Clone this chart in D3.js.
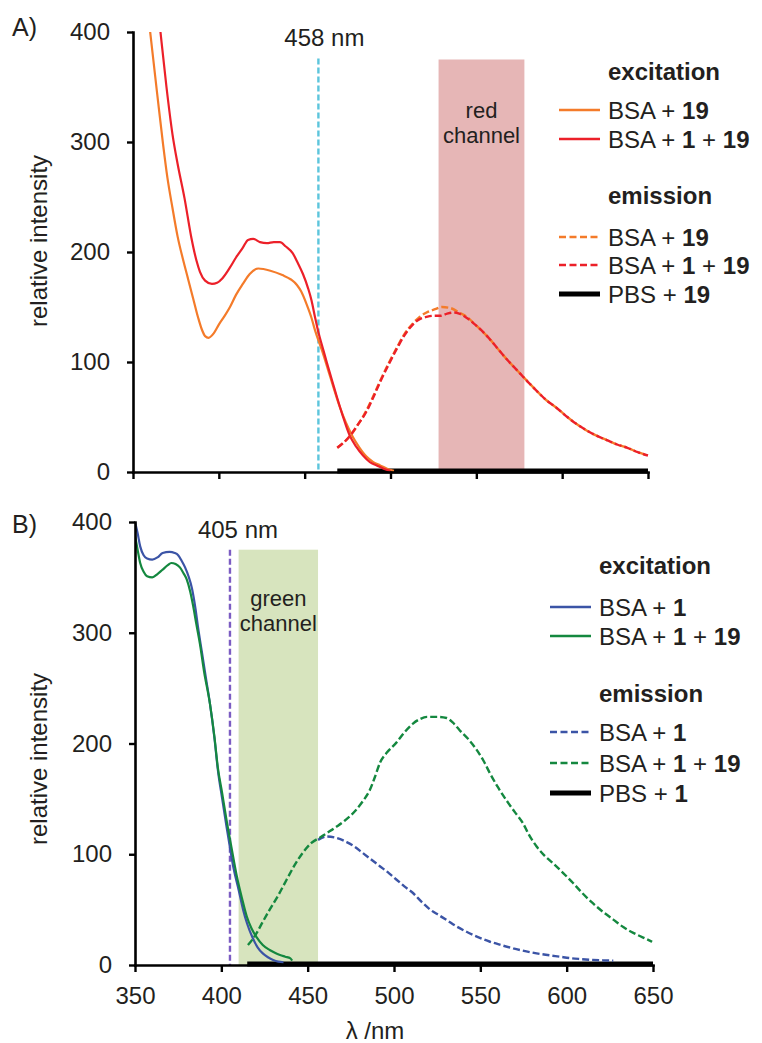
<!DOCTYPE html>
<html><head><meta charset="utf-8">
<script src="https://cdn.jsdelivr.net/npm/d3@7"></script>
<style>
html,body{margin:0;padding:0;background:#fff;}
svg{display:block;font-family:"Liberation Sans",Arial,sans-serif;}
</style></head><body>
<svg id="chart" width="762" height="1043"></svg>
<script>
// Axis ticks: wavelength (nm) and relative intensity
const xTicks = [350, 400, 450, 500, 550, 600, 650];
const yTicks = [0, 100, 200, 300, 400];

// Panel A — excitation spectra, [wavelength nm, intensity]
const excA_bsa19 = [[355,470],[360,400],[364,345],[367.5,298],[370,268],[373,240],[376,214],[379,194],[382,176],[385,158],[388,140],[390,130],[392,123.5],[394,122],[397,126],[400,134],[403,141],[406.5,150],[410,161],[414,171],[418,180],[423,185],[430,183],[437,179],[442,175],[445.5,170],[448,164],[451,153],[454,140],[456,129],[460,111],[465,86],[470.5,59],[474,45],[478,32],[482,22],[486,14],[490,9],[494,6],[498,3],[502,1]];
const excA_bsa1_19 = [[362,460],[366,400],[369.5,350],[373,307],[376,280],[380,249],[384,213],[387,192],[389,182],[392,174],[396,171],[399,172],[402,176],[406.5,186],[410,195],[414,204],[417,211],[420,212],[424,209],[428,208],[432,209],[435.6,209],[439,205],[443,199],[446,190],[449,180],[452,167],[454,156],[456,141],[458,127],[460.5,113],[463,99],[466,83],[469,67],[472,52],[476,34],[480,23],[484,15],[488,9],[492,6],[496,3],[500,1]];
// Panel A — emission spectra
const emA_bsa19 = [[469,22],[476,32],[481,43],[486,56],[490,69],[494,83],[499,99],[504,114],[508,125],[513,135],[517,141],[521,145],[526,148],[530,150],[535,149],[540,145],[544.5,141],[550,133],[556,124],[562,113],[568,102],[574,92],[580,82],[585,74],[591,65],[597,58],[603,50],[608,44],[614,38],[620,33],[626,29],[632,25],[638,22],[644,18],[650,15]];
const emA_bsa1_19 = [[469,22],[476,32],[481,43],[486,55],[490,68],[494,82],[499,98],[504,113],[508,124],[513,134],[517,139],[521,141],[525,142],[529,142],[533,144],[537,145],[540,144],[544.5,140],[550,133],[556,124],[562,113],[568,102],[574,92],[580,82],[585,74],[591,65],[597,58],[603,50],[608,44],[614,38],[620,33],[626,29],[632,25],[638,22],[644,18],[650,15]];
const emA_pbs19 = [[469,1],[650,1]];

// Panel B — excitation spectra
const excB_bsa1 = [[350,400],[351.5,390],[353,378],[355,370],[357,367],[360,366],[363,368],[366,372],[370,373],[373,372],[375,370],[377,365],[379,359],[381,351],[383,340],[385,322],[386.5,305],[388.6,284],[391,260],[393.4,236],[396,205],[398,176],[400.5,150],[403,125],[405,106],[407,88],[410,68],[412.6,50],[415,37],[418,25],[421,16],[424,10.5],[427,7],[430,4.5],[433,3],[436,2.5]];
const excB_bsa1_19 = [[350,388],[351.5,375],[353,363],[355,355],[357,351],[360,350],[363,353],[366,357],[369,361],[371,363],[373.5,362],[376,359],[378,354],[380,348],[382,337],[383.7,324],[385.5,308],[387.6,290],[390,265],[393.4,236],[396,206],[398,178],[400.5,155],[403,131],[406,105],[409,80],[412,60],[414.7,44],[417.5,33],[420.5,25],[424,18],[428,13.5],[431,11],[434,9],[437,7.5],[440,6],[441,4]];
// Panel B — emission spectra
const emB_bsa1 = [[456,113],[461,116],[466,115],[472.6,111],[477,107],[482,101],[487,95],[492,89],[497,83],[501.5,77],[506,71],[511,65],[516,57],[521,50],[526,45],[530.5,40.6],[536,35],[542,30],[549,25],[555.6,21],[562,18],[569,15],[576,12.5],[582.6,10.5],[589,9],[596,7.5],[602,6.2],[607.7,5.4],[615,4.6],[621,4.2],[627,3.9]];
const emB_bsa1_19 = [[415.4,18],[418,23],[420.5,29],[424,39],[428,50],[433,63],[437.8,77],[442,89],[447,101],[452,110],[457,115],[462,120],[466.8,125],[472,131],[478,140],[482,148],[486,158],[489,170],[492,183],[496,192],[501.5,201],[506,210],[511,218],[515,222],[519,224],[525,224],[530.5,223],[534,219],[538,212],[543,204],[548,194],[552,184],[555.6,173],[560,161],[565,149],[570,138],[574.7,128],[578,118],[582.6,107],[587,99],[592,92],[598,83],[603.7,74],[609,65],[615,56],[621,48],[627,41],[633,34],[638.6,29],[644,25],[649.5,21]];
const emB_pbs1 = [[415,1],[650,1]];

// Detection channels [start nm, end nm, height] and laser lines [nm, height]
const channelA = [528, 578, 375];
const channelB = [410, 456, 375];
const laserA = [458, 376];
const laserB = [405, 375];

const INK = "#231f20";
const svg = d3.select("#chart");

// line styles per series
const styles = {
  excA_bsa19:   {color:"#f47b2a", dash:null, w:2.2},
  excA_bsa1_19: {color:"#ec2029", dash:null, w:2.2},
  emA_bsa19:    {color:"#f47b2a", dash:"7,3", w:2.4},
  emA_bsa1_19:  {color:"#ec2029", dash:"7,3", w:2.4},
  emA_pbs19:    {color:"#000", dash:null, w:5},
  excB_bsa1:    {color:"#3b54a6", dash:null, w:2.2},
  excB_bsa1_19: {color:"#14883f", dash:null, w:2.2},
  emB_bsa1:     {color:"#3b54a6", dash:"7,3", w:2.4},
  emB_bsa1_19:  {color:"#14883f", dash:"7,3", w:2.4},
  emB_pbs1:     {color:"#000", dash:null, w:5}
};

function drawPanel(cfg) {
  const x = d3.scaleLinear().domain([350, 650]).range(cfg.xr);
  const y = d3.scaleLinear().domain([0, 400]).range(cfg.yr);
  const g = svg.append("g");

  const clipId = "clip" + cfg.id;
  svg.append("defs").append("clipPath").attr("id", clipId)
    .append("rect")
    .attr("x", cfg.xr[0]).attr("y", cfg.yr[1])
    .attr("width", cfg.xr[1] - cfg.xr[0] + 2)
    .attr("height", cfg.yr[0] - cfg.yr[1] + 6);

  // detection channel band
  g.append("rect")
    .attr("x", x(cfg.channel[0])).attr("y", y(cfg.channel[2]))
    .attr("width", x(cfg.channel[1]) - x(cfg.channel[0]))
    .attr("height", y(0) - y(cfg.channel[2]))
    .attr("fill", cfg.bandColor);
  const bx = (x(cfg.channel[0]) + x(cfg.channel[1])) / 2;
  g.append("text").attr("x", bx).attr("y", cfg.bandLabelY)
    .attr("text-anchor", "middle").attr("font-size", 22).attr("fill", INK)
    .selectAll("tspan").data(cfg.bandLabel).join("tspan")
    .attr("x", bx).attr("dy", (d, i) => i === 0 ? 0 : 25).text(d => d);

  // laser line
  g.append("line")
    .attr("x1", x(cfg.laser[0])).attr("x2", x(cfg.laser[0]))
    .attr("y1", y(cfg.laser[1])).attr("y2", y(0))
    .attr("stroke", cfg.laserColor).attr("stroke-width", 2.4)
    .attr("stroke-dasharray", "6,3");
  g.append("text").attr("x", x(cfg.laser[0]) + cfg.laserLabelDx).attr("y", cfg.laserLabelY)
    .attr("text-anchor", "middle").attr("font-size", 24).attr("fill", INK)
    .text(cfg.laser[0] + " nm");

  // spectra
  const line = d3.line().x(d => x(d[0])).y(d => y(d[1])).curve(d3.curveMonotoneX);
  const cg = g.append("g").attr("clip-path", `url(#${clipId})`);
  cfg.series.forEach(s => {
    const st = styles[s.key];
    cg.append("path").datum(s.data)
      .attr("d", line).attr("fill", "none")
      .attr("stroke", st.color).attr("stroke-width", st.w)
      .attr("stroke-dasharray", st.dash)
      .attr("stroke-linejoin", "round");
  });

  // axes
  const yAxis = g.append("g").attr("transform", `translate(${cfg.xr[0]},0)`)
    .call(d3.axisLeft(y).tickValues(yTicks).tickSize(6).tickSizeOuter(0).tickPadding(17));
  const xAxis = g.append("g").attr("transform", `translate(0,${cfg.yr[0]})`)
    .call(d3.axisBottom(x).tickValues(xTicks).tickSize(7).tickSizeOuter(0).tickPadding(15)
      .tickFormat(cfg.xLabels ? d3.format("d") : () => ""));
  [yAxis, xAxis].forEach(a => {
    a.select(".domain").attr("stroke", "#000").attr("stroke-width", 2.6).attr("stroke-linecap", "square");
    a.selectAll(".tick line").attr("stroke", "#000").attr("stroke-width", 2.4);
    a.selectAll(".tick text").attr("font-size", 24).attr("fill", INK)
      .attr("font-family", '"Liberation Sans",Arial,sans-serif');
  });

  // y axis title
  g.append("text")
    .attr("transform", `translate(47,${cfg.yTitleY}) rotate(-90)`)
    .attr("text-anchor", "middle").attr("font-size", 24).attr("fill", INK)
    .text("relative intensity");

  // panel letter
  g.append("text").attr("x", 12).attr("y", cfg.letterY)
    .attr("font-size", 25).attr("fill", INK).text(cfg.letter);

  // legend
  const lg = g.append("g");
  cfg.legend.forEach(e => {
    if (e.head) {
      lg.append("text").attr("x", cfg.legendTextX).attr("y", e.y)
        .attr("font-size", 24).attr("font-weight", "bold").attr("fill", INK).text(e.head);
      return;
    }
    const st = styles[e.key];
    lg.append("line")
      .attr("x1", cfg.legendLineX[0]).attr("x2", cfg.legendLineX[1])
      .attr("y1", e.y).attr("y2", e.y)
      .attr("stroke", st.color).attr("stroke-width", st.w === 5 ? 5 : 2.6)
      .attr("stroke-dasharray", st.dash ? "7,3.5" : null);
    lg.append("text").attr("x", cfg.legendTextX).attr("y", e.y + 8.5)
      .attr("font-size", 24).attr("fill", INK)
      .selectAll("tspan").data(e.parts).join("tspan")
      .attr("font-weight", d => d[1] ? "bold" : "normal").text(d => d[0]);
  });
}

drawPanel({
  id: "A", letter: "A)", letterY: 36,
  xr: [133, 648], yr: [472, 32], xLabels: false, yTitleY: 241,
  channel: channelA, bandColor: "#e6b6b6", bandLabel: ["red", "channel"], bandLabelY: 118,
  laser: laserA, laserColor: "#5dc5dc", laserLabelY: 46, laserLabelDx: 6,
  series: [
    {key: "emA_pbs19", data: emA_pbs19},
    {key: "excA_bsa19", data: excA_bsa19},
    {key: "excA_bsa1_19", data: excA_bsa1_19},
    {key: "emA_bsa19", data: emA_bsa19},
    {key: "emA_bsa1_19", data: emA_bsa1_19}
  ],
  legendLineX: [559, 600], legendTextX: 608,
  legend: [
    {head: "excitation", y: 80},
    {key: "excA_bsa19", y: 110, parts: [["BSA + ", false], ["19", true]]},
    {key: "excA_bsa1_19", y: 139, parts: [["BSA + ", false], ["1", true], [" + ", false], ["19", true]]},
    {head: "emission", y: 204},
    {key: "emA_bsa19", y: 237, parts: [["BSA + ", false], ["19", true]]},
    {key: "emA_bsa1_19", y: 265, parts: [["BSA + ", false], ["1", true], [" + ", false], ["19", true]]},
    {key: "emA_pbs19", y: 294, parts: [["PBS + ", false], ["19", true]]}
  ]
});

drawPanel({
  id: "B", letter: "B)", letterY: 533,
  xr: [135, 653], yr: [965, 522], xLabels: true, yTitleY: 759,
  channel: channelB, bandColor: "#d7e4be", bandLabel: ["green", "channel"], bandLabelY: 606,
  laser: laserB, laserColor: "#7b5cc2", laserLabelY: 538, laserLabelDx: 8,
  series: [
    {key: "emB_pbs1", data: emB_pbs1},
    {key: "excB_bsa1", data: excB_bsa1},
    {key: "excB_bsa1_19", data: excB_bsa1_19},
    {key: "emB_bsa1", data: emB_bsa1},
    {key: "emB_bsa1_19", data: emB_bsa1_19}
  ],
  legendLineX: [550, 591], legendTextX: 599,
  legend: [
    {head: "excitation", y: 574},
    {key: "excB_bsa1", y: 607, parts: [["BSA + ", false], ["1", true]]},
    {key: "excB_bsa1_19", y: 636, parts: [["BSA + ", false], ["1", true], [" + ", false], ["19", true]]},
    {head: "emission", y: 702},
    {key: "emB_bsa1", y: 732, parts: [["BSA + ", false], ["1", true]]},
    {key: "emB_bsa1_19", y: 763, parts: [["BSA + ", false], ["1", true], [" + ", false], ["19", true]]},
    {key: "emB_pbs1", y: 793, parts: [["PBS + ", false], ["1", true]]}
  ]
});

// x axis title
svg.append("text").attr("x", 375).attr("y", 1039)
  .attr("text-anchor", "middle").attr("font-size", 24).attr("fill", INK)
  .text("λ /nm");
</script>
</body></html>
